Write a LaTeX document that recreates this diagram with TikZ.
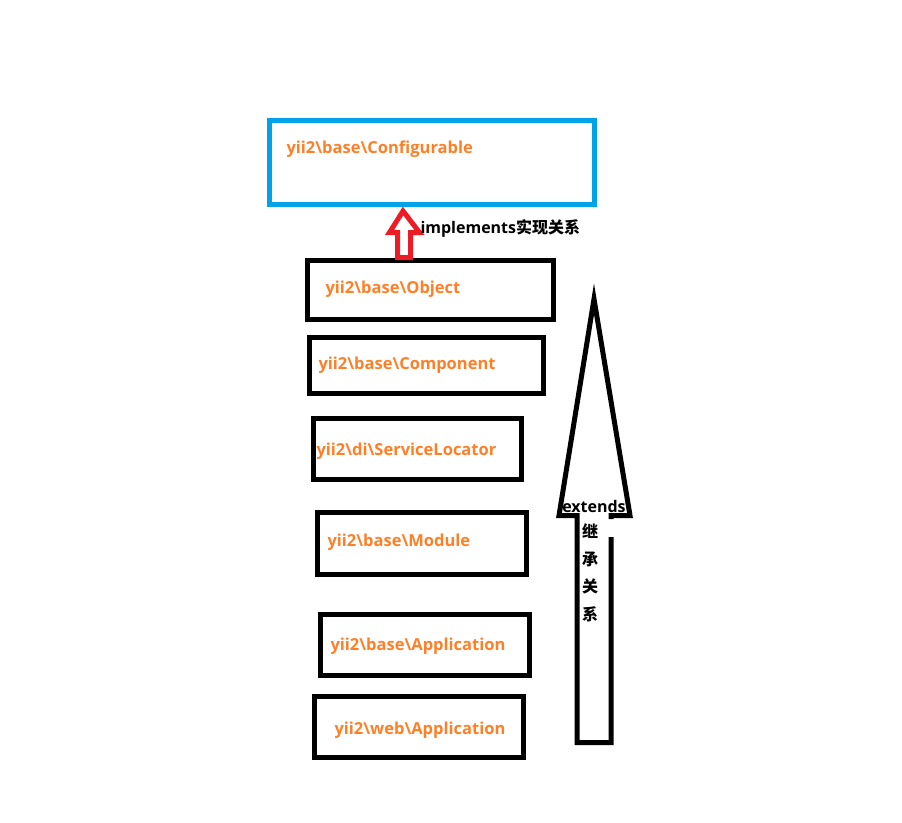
\documentclass[tikz,border=0pt]{standalone}
\usepackage{fontspec}
\setmainfont{Open Sans}
\newfontfamily\cjk{Noto Sans CJK SC}
\definecolor{myorange}{RGB}{255,127,39}
\definecolor{myblue}{RGB}{0,162,232}
\definecolor{myred}{RGB}{237,28,36}
\usetikzlibrary{positioning,calc}

\begin{document}
\begin{tikzpicture}[
  x=1pt, y=-1pt,
  line width=5pt,
  myrect/.style={
    draw,
    rectangle,
    inner sep=0pt,
    minimum width=209pt,
    minimum height=61pt
    },
  myname/.style={
    anchor=west,
    inner sep=0pt,
    text=myorange,
    font=\fontsize{16.5}{18}\selectfont\bfseries
    },
  mynote/.style={
    inner sep=0pt,
    font=\fontsize{16}{18}\selectfont\bfseries
    }
]
\useasboundingbox (0,0) rectangle (902,822);

\node [myrect, draw=myblue, minimum width=325pt, minimum height=84pt] (conf) at (432,162.5) {};
\node [myrect, minimum width=246pt, minimum height=59pt] (obj) at (430.5,290) {};
\node [myrect, minimum width=234pt, minimum height=56pt] (comp) at (426.5,365.5) {};
\node [myrect, minimum width=208pt] (sl) at (417.5,449) {};
\node [myrect, minimum height=62pt] (mod) at (422,543.5) {};
\node [myrect] (baseapp) at (425,645) {};
\node [myrect] (webapp) at (419,727) {};

\node [myname] (confname) at (284,149) {yii2\textbackslash base\textbackslash Configurable};
\node [myname] (objname) at (323,289) {yii2\textbackslash base\textbackslash Object};
\node [myname] (compname) at (316,365) {yii2\textbackslash base\textbackslash Component};
\node [myname] (slname) at (314,451) {yii2\textbackslash di\textbackslash ServiceLocator};
\node [myname] (modname) at (325,542) {yii2\textbackslash base\textbackslash Module};
\node [myname] (baseappname) at (328,646) {yii2\textbackslash base\textbackslash Application};
\node [myname] (webappname) at (332,730) {yii2\textbackslash web\textbackslash Application};

\draw [myred] (403,211) -- (419.5,232.5) -- (410.5,232.5) -- (410.5,257.5)
  -- (397.5,257.5) -- (397.5,232.5) -- (389.5,232.5) -- cycle;
\node [mynote, anchor=west] (impl) at (418,228) {implements{\cjk 实现关系}};

\draw (611,537) -- (611,742.5) -- (577,742.5) -- (577,515.5) -- (559,515.5)
  -- (594,299) -- (630,515.5) -- (611,515.5) -- (611,519);
\node [mynote] (ext) at (594,506) {extends};
\foreach \c [count=\i] in {继,承,关,系}
  \node [mynote] (ch\i) at (590,504+27.5*\i) {\cjk\c};

\end{tikzpicture}
\end{document}
